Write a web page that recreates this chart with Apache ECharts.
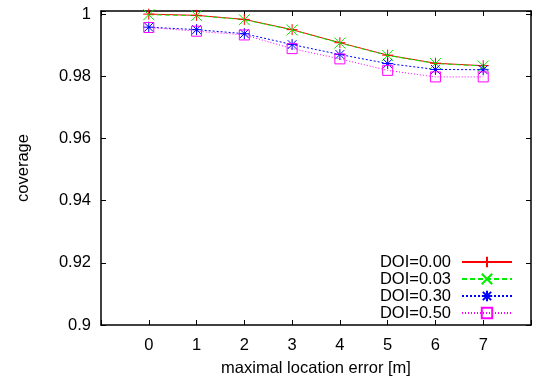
<!DOCTYPE html>
<html>
<head>
<meta charset="utf-8">
<script src="https://cdn.jsdelivr.net/npm/echarts@6/dist/echarts.min.js"></script>
<style>
html,body{margin:0;padding:0;background:#fff;}
#chart{width:534px;height:383px;}
</style>
</head>
<body>
<div id="chart"></div>
<script>
// ---- data ----
const xValues = [0, 1, 2, 3, 4, 5, 6, 7];
const seriesNames = ['DOI=0.00', 'DOI=0.03', 'DOI=0.30', 'DOI=0.50'];
const doi000 = [1.0000, 0.9996, 0.9983, 0.9950, 0.9908, 0.9868, 0.9842, 0.9834];
const doi003 = [0.9998, 0.9995, 0.9982, 0.9949, 0.9907, 0.9867, 0.9841, 0.9833];
const doi030 = [0.9958, 0.9950, 0.9937, 0.9902, 0.9870, 0.9841, 0.9822, 0.9821];
const doi050 = [0.9957, 0.9945, 0.9933, 0.9889, 0.9856, 0.9819, 0.9798, 0.9798];
const xTickLabels = ['0', '1', '2', '3', '4', '5', '6', '7'];
const yTickLabels = ['0.9', '0.92', '0.94', '0.96', '0.98', '1'];

const FONT = "'Liberation Sans', Arial, Helvetica, sans-serif";
const FS = 16.5;

function pairs(ys) { return xValues.map((x, i) => [x, ys[i]]); }

const colors = ['#ff0000', '#00ee00', '#0000ff', '#ff00ff'];
const symbols = [
  'path://M5,0V10M0,5H10',
  'path://M0,0L10,10M10,0L0,10',
  'path://M5,0V10M0,5H10M1,1L9,9M9,1L1,9',
  'path://M0,0H10V10H0Z'
];
const dashes = ['solid', [5, 3], [2, 2], [1, 2]];
const allData = [doi000, doi003, doi030, doi050];

const series = allData.map((d, i) => ({
  name: seriesNames[i],
  type: 'line',
  data: pairs(d),
  symbol: symbols[i],
  symbolSize: i === 3 ? 10 : 11,
  showAllSymbol: true,
  lineStyle: { color: colors[i], width: 1, type: dashes[i] },
  itemStyle: { color: 'rgba(0,0,0,0)', borderColor: colors[i], borderWidth: 1 },
  emphasis: { disabled: true },
  animation: false
}));

const axisLineStyle = { show: true, onZero: false, lineStyle: { color: '#000', width: 1.5 } };
const tickStyle = { show: true, inside: true, length: 5, lineStyle: { color: '#000', width: 1 } };

const option = {
  backgroundColor: '#fff',
  animation: false,
  grid: { left: 101, right: 1, top: 11, bottom: 58, containLabel: false },
  legend: {
    data: seriesNames,
    orient: 'vertical',
    right: 21,
    top: 253.5,
    align: 'right',
    padding: 0,
    itemGap: 0,
    itemWidth: 50,
    itemHeight: 13,
    textStyle: { fontFamily: FONT, fontSize: FS, color: '#000', lineHeight: 16.8, padding: [0, 6, 0, 0] },
    selectedMode: false
  },
  xAxis: [{
    type: 'value', min: -1, max: 8, interval: 1, position: 'bottom',
    name: 'maximal location error [m]', nameLocation: 'middle', nameGap: 35,
    nameTextStyle: { fontFamily: FONT, fontSize: FS, color: '#000' },
    axisLine: axisLineStyle, axisTick: tickStyle, splitLine: { show: false },
    axisLabel: {
      fontFamily: FONT, fontSize: FS, color: '#000', margin: 11.5,
      formatter: v => { const i = xValues.indexOf(Math.round(v)); return (i >= 0 && Math.abs(v - xValues[i]) < 1e-6) ? xTickLabels[i] : ''; }
    }
  }, {
    type: 'value', min: -1, max: 8, interval: 1, position: 'top',
    axisLine: axisLineStyle, axisTick: tickStyle, splitLine: { show: false },
    axisLabel: { show: false }
  }],
  yAxis: [{
    type: 'value', min: 0.9, max: 1.001, interval: 0.02, position: 'left',
    name: 'coverage', nameLocation: 'middle', nameGap: 69, nameRotate: 90,
    nameTextStyle: { fontFamily: FONT, fontSize: FS, color: '#000' },
    axisLine: axisLineStyle, axisTick: tickStyle, splitLine: { show: false },
    axisLabel: {
      fontFamily: FONT, fontSize: FS, color: '#000', margin: 10,
      formatter: v => { const k = Math.round((v - 0.9) / 0.02); return (Math.abs(v - (0.9 + k * 0.02)) < 1e-6 && k >= 0 && k < yTickLabels.length) ? yTickLabels[k] : ''; }
    }
  }, {
    type: 'value', min: 0.9, max: 1.001, interval: 0.02, position: 'right',
    axisLine: axisLineStyle, axisTick: tickStyle, splitLine: { show: false },
    axisLabel: { show: false }
  }],
  series: series
};

const chart = echarts.init(document.getElementById('chart'), null, { renderer: 'canvas' });
chart.setOption(option);
</script>
</body>
</html>
